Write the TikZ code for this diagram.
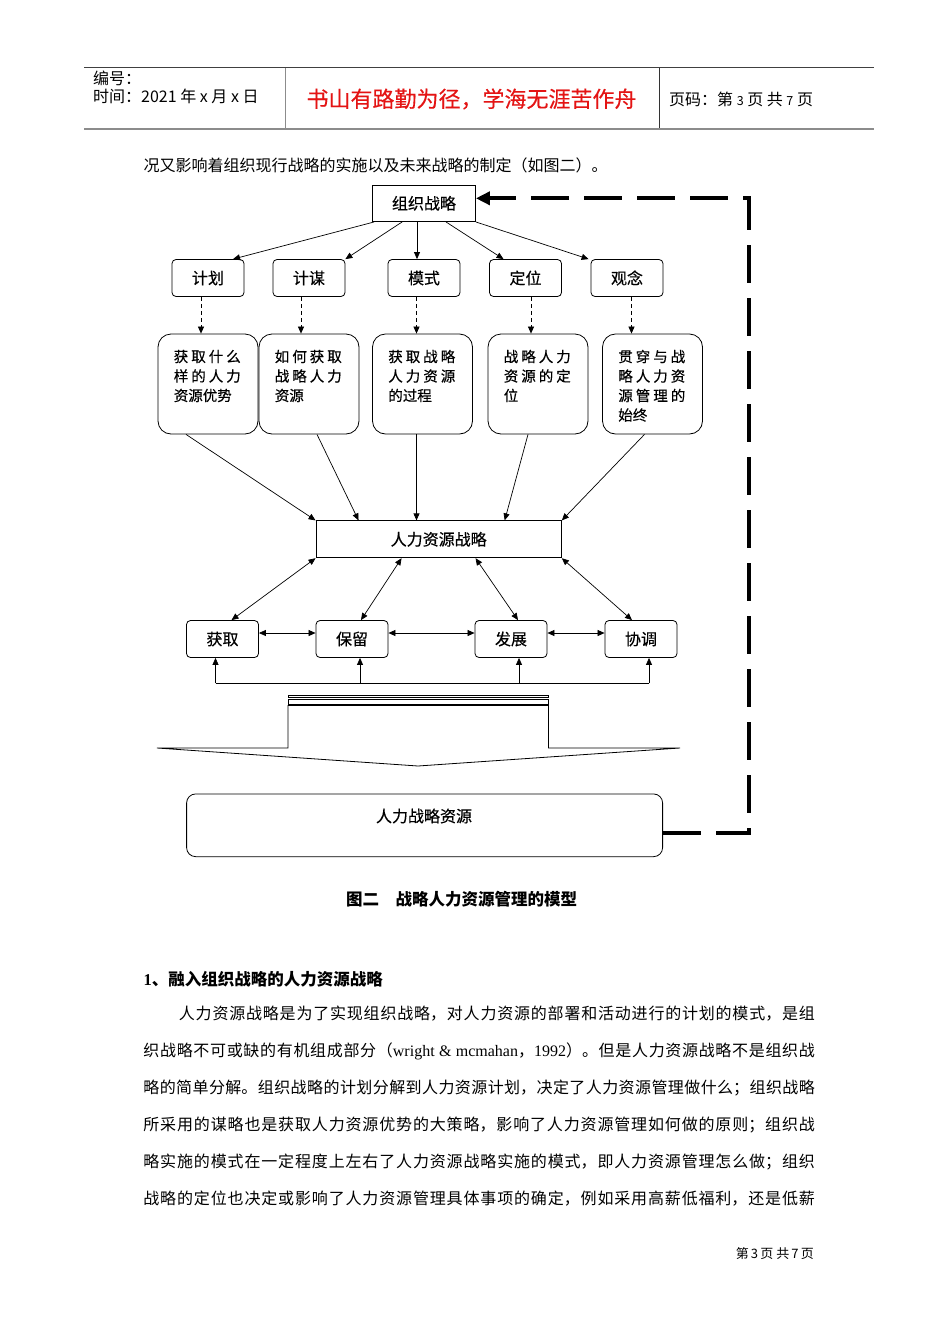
\documentclass[tikz,border=0pt]{standalone}
\usepackage{fontspec}
\setmainfont{Noto Sans CJK SC}
\newfontfamily\hei{Noto Sans CJK SC}[UprightFeatures={FakeBold=0.35}]
\newfontfamily\tms{Liberation Serif}
\usetikzlibrary{arrows.meta,calc}
\XeTeXlinebreaklocale "zh"
\XeTeXlinebreakskip=0pt plus 4pt
\tolerance=9999
\definecolor{hdred}{RGB}{228,20,20}
\newcommand\fsz[2]{\fontsize{#1pt}{#2pt}\selectfont}

\begin{document}
\begin{tikzpicture}[x=1pt,y=-1pt,
  every node/.style={inner sep=0pt},
  lbl/.style={font=\hei\fsz{16}{19}},
  plainbox/.style={draw,line width=0.8pt,lbl},
  sbox/.style={draw,line width=0.8pt,minimum width=72pt,minimum height=37pt,rounded corners=4pt,lbl},
  bigbox/.style={draw,line width=0.8pt,minimum width=100pt,minimum height=100pt,rounded corners=13pt},
  boxtxt/.style={anchor=north west,text width=67pt,align=justify,font=\hei\fsz{14.5}{19.5}},
  arr/.style={line width=0.7pt,-{Triangle[length=7pt,width=6pt]}},
  darr/.style={line width=0.7pt,{Triangle[length=7pt,width=6pt]}-{Triangle[length=7pt,width=6pt]}},
  dasharr/.style={arr,dash pattern=on 4pt off 3pt},
  fbline/.style={line width=4pt,line join=miter,dash pattern=on 38pt off 15pt,-{Triangle[length=14pt,width=13pt]}},
  bodytxt/.style={anchor=west,text width=671.5pt,align=justify,font=\fsz{16}{20}}
]
\useasboundingbox[fill=white] (0,0) rectangle (950,1344);

% header
\draw[line width=0.8pt,black!75] (84,67.5) -- (874,67.5);
\draw[line width=2pt,black!45] (84,129) -- (874,129);
\draw[line width=1pt,black!45] (285,68) -- (285,128);
\draw[line width=0.8pt,black!80] (659,68) -- (659,128);
\node[anchor=west,font=\fsz{16}{18}] (h1) at (93,78.5) {编号：};
\node[anchor=west,font=\fsz{16}{18}] (h2) at (93,96) {时间：2021 年 x 月 x 日};
\node[font=\hei\fsz{22}{24},text=hdred] (motto) at (471.5,99) {书山有路勤为径，学海无涯苦作舟};
\node[anchor=west,font=\fsz{16}{18}] (pg) at (669,99) {页码：第 {\fsz{12.5}{12}3} 页 共 {\fsz{12.5}{12}7} 页};

% intro line
\node[anchor=west,font=\fsz{16}{20}] (intro) at (143.5,165) {况又影响着组织现行战略的实施以及未来战略的制定（如图二）。};

% diagram
\node[plainbox,minimum width=103pt,minimum height=36.5pt] (org) at (424,203.3) {组织战略\hspace{8pt}};

\node[sbox] (p1) at (208,278) {计划\hspace{12pt}};
\node[sbox] (p2) at (309,278) {计谋\hspace{12pt}};
\node[sbox] (p3) at (424,278) {模式\hspace{12pt}};
\node[sbox] (p4) at (525.5,278) {定位\hspace{12pt}};
\node[sbox] (p5) at (627,278) {观念\hspace{12pt}};

\draw[arr] ($(org.south west)+(2,0)$) -- ($(p1.north)+(25,0)$);
\draw[arr] ($(org.south west)+(30,0)$) -- (p2.north east);
\draw[arr] ($(org.south)+(-7,0)$) coordinate (o3) -- (o3 |- p3.north);
\draw[arr] ($(org.south)+(22,0)$) -- ($(p4.north)+(-22,0)$);
\draw[arr] (org.south east) -- ($(p5.north west)+(-2,0)$);

\node[bigbox] (r1) at (208,384) {};
\node[bigbox] (r2) at (309,384) {};
\node[bigbox] (r3) at (422.5,384) {};
\node[bigbox] (r4) at (538,384) {};
\node[bigbox] (r5) at (652.5,384) {};

\node[boxtxt] (t1) at ($(r1.north west)+(16,16)$) {获取什么样的人力资源优势\par};
\node[boxtxt] (t2) at ($(r2.north west)+(16,16)$) {如何获取战略人力资源\par};
\node[boxtxt] (t3) at ($(r3.north west)+(16,16)$) {获取战略人力资源的过程\par};
\node[boxtxt] (t4) at ($(r4.north west)+(16,16)$) {战略人力资源的定位\par};
\node[boxtxt] (t5) at ($(r5.north west)+(16,16)$) {贯穿与战略人力资源管理的始终\par};

\draw[dasharr] ($(p1.south)+(-7,0)$) coordinate (d1) -- (d1 |- r1.north);
\draw[dasharr] ($(p2.south)+(-8,0)$) coordinate (d2) -- (d2 |- r2.north);
\draw[dasharr] ($(p3.south)+(-7.5,0)$) coordinate (d3) -- (d3 |- r3.north);
\draw[dasharr] ($(p4.south)+(5.5,0)$) coordinate (d4) -- (d4 |- r4.north);
\draw[dasharr] ($(p5.south)+(4.5,0)$) coordinate (d5) -- (d5 |- r5.north);

\node[plainbox,minimum width=245.5pt,minimum height=37pt] (hrs) at (438.7,539.3) {人力资源战略};

\draw[arr] ($(r1.south)+(-22,0)$) -- (hrs.north west);
\draw[arr] ($(r2.south)+(8,0)$) -- ($(hrs.north west)+(43,0)$);
\draw[arr] ($(r3.south)+(-6,0)$) coordinate (s3) -- (s3 |- hrs.north);
\draw[arr] ($(r4.south)+(-10,0)$) -- ($(hrs.north)+(66,0)$);
\draw[arr] ($(r5.south)+(-8,0)$) -- (hrs.north east);

\node[sbox] (q1) at (222.5,639) {获取\hspace{12pt}};
\node[sbox] (q2) at (352,639) {保留\hspace{12pt}};
\node[sbox] (q3) at (511,639) {发展\hspace{12pt}};
\node[sbox] (q4) at (641,639) {协调\hspace{12pt}};

\draw[darr] (hrs.south west) -- ($(q1.north)+(9,0)$);
\draw[darr] ($(hrs.south west)+(86,0)$) -- ($(q2.north)+(9,0)$);
\draw[darr] ($(hrs.south west)+(160,0)$) -- ($(q3.north)+(7,0)$);
\draw[darr] (hrs.south east) -- ($(q4.north)+(-9,0)$);

\draw[darr] ($(q1.east)+(0,-6)$) -- ($(q2.west)+(0,-6)$);
\draw[darr] ($(q2.east)+(0,-6)$) -- ($(q3.west)+(0,-6)$);
\draw[darr] ($(q3.east)+(0,-6)$) -- ($(q4.west)+(0,-6)$);

\coordinate (fb1) at ($(q1.south)+(-7,25.5)$);
\coordinate (fb2) at ($(q2.south)+(8,25.5)$);
\coordinate (fb3) at ($(q3.south)+(8,25.5)$);
\coordinate (fb4) at ($(q4.south)+(8,25.5)$);
\draw[line width=0.7pt] (fb1) -- (fb4);
\draw[arr] (fb1) -- (fb1 |- q1.south);
\draw[arr] (fb2) -- (fb2 |- q2.south);
\draw[arr] (fb3) -- (fb3 |- q3.south);
\draw[arr] (fb4) -- (fb4 |- q4.south);

% big block arrow
\draw[line width=0.8pt] (288,695) rectangle (548.5,697.5);
\draw[line width=0.8pt] (288,699.5) rectangle (548.5,704);
\draw[line width=0.8pt,line join=miter] (288,705.5) -- (288,748) -- (157,748) -- (418,766) -- (680,748) -- (548.5,748) -- (548.5,705.5) -- cycle;

\node[draw,line width=0.8pt,minimum width=476pt,minimum height=62.7pt,rounded corners=9pt] (hrr) at (424.6,825.3) {};
\node[lbl] (hrrt) at (424,816) {人力战略资源};

\coordinate (c1) at (749,832.8);
\coordinate (c2) at (749,198.3);
\draw[fbline] ($(hrr.east)+(0,7.5)$) -- (c1) -- (c2) -- ($(org.east)+(0,-5)$);

% caption and text
\node[font=\bfseries\fsz{16.5}{20}] (cap) at (461.5,899.3) {图二\hspace{1em}战略人力资源管理的模型};
\node[anchor=west,font=\bfseries\fsz{16.5}{20}] (hd) at (143.5,979.3) {{\tms\bfseries 1}、融入组织战略的人力资源战略};

\node[bodytxt] (l1) at (143.2,1014) {\parfillskip=0pt \hspace*{35.5pt}人力资源战略是为了实现组织战略，对人力资源的部署和活动进行的计划的模式，是组\par};
\node[bodytxt] (l2) at (143.2,1051) {\parfillskip=0pt 织战略不可或缺的有机组成部分（{\tms wright \& mcmahan}，{\tms 1992}）。但是人力资源战略不是组织战\par};
\node[bodytxt] (l3) at (143.2,1088.3) {\parfillskip=0pt 略的简单分解。组织战略的计划分解到人力资源计划，决定了人力资源管理做什么；组织战略\par};
\node[bodytxt] (l4) at (143.2,1125) {\parfillskip=0pt 所采用的谋略也是获取人力资源优势的大策略，影响了人力资源管理如何做的原则；组织战\par};
\node[bodytxt] (l5) at (143.2,1162.3) {\parfillskip=0pt 略实施的模式在一定程度上左右了人力资源战略实施的模式，即人力资源管理怎么做；组织\par};
\node[bodytxt] (l6) at (143.2,1199) {\parfillskip=0pt 战略的定位也决定或影响了人力资源管理具体事项的确定，例如采用高薪低福利，还是低薪\par};

\node[anchor=east,font=\fsz{13}{15}] (ft) at (814,1253.3) {第\,3\,页\ 共\,7\,页};
\end{tikzpicture}
\end{document}
